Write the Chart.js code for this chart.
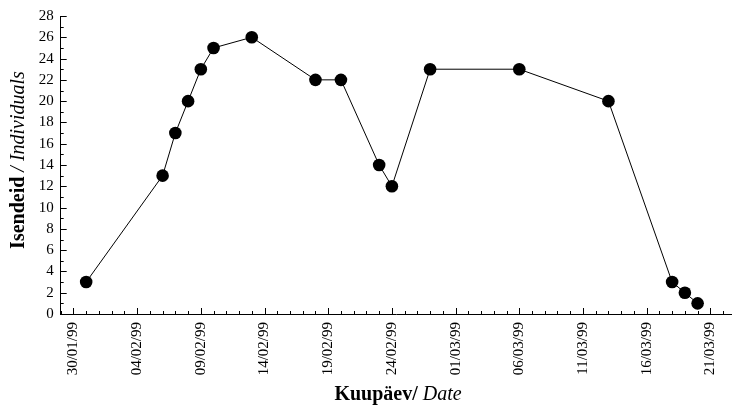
<!DOCTYPE html>
<html lang="et">
<head>
    <meta charset="UTF-8">
    <title>Isendeid</title>
    <script src="https://cdn.jsdelivr.net/npm/chart.js"></script>
    <style>
        html, body { margin: 0; padding: 0; background: #fff; }
        #wrap { width: 732px; height: 408px; position: relative; }
    </style>
</head>
<body>
<div id="wrap"><canvas id="myChart"></canvas></div>
<script>
    // kuupäevad ja isendite arv
    const dates = ['31/01/99', '06/02/99', '07/02/99', '08/02/99', '09/02/99', '10/02/99', '13/02/99',
        '18/02/99', '20/02/99', '23/02/99', '24/02/99', '27/02/99', '06/03/99', '13/03/99',
        '18/03/99', '19/03/99', '20/03/99']
    const individuals = [3, 13, 17, 20, 23, 25, 26, 22, 22, 14, 12, 23, 23, 20, 3, 2, 1]
    const xTickDays = [0, 5, 10, 15, 20, 25, 30, 35, 40, 45, 50]   // 30/01/99 + n päeva
    const yTicks = [0, 2, 4, 6, 8, 10, 12, 14, 16, 18, 20, 22, 24, 26, 28]

    const DAY = 86400000
    const start = Date.UTC(1999, 0, 30)
    const toDay = s => {
        const [d, m, y] = s.split('/').map(Number)
        return Math.round((Date.UTC(1900 + y, m - 1, d) - start) / DAY)
    }
    const fmt = v => {
        const d = new Date(start + v * DAY)
        const p = n => String(n).padStart(2, '0')
        return p(d.getUTCDate()) + '/' + p(d.getUTCMonth() + 1) + '/' + String(d.getUTCFullYear()).slice(2)
    }

    const FONT = '"Liberation Serif", "Times New Roman", serif'

    // sissepoole suunatud suured ja väikesed tikid
    const innerTicks = {
        id: 'innerTicks',
        beforeDatasetsDraw(chart) {
            const { ctx, chartArea, scales: { x, y } } = chart
            ctx.save()
            ctx.strokeStyle = '#000'
            ctx.lineWidth = 1
            ctx.beginPath()
            for (let d = Math.ceil(x.min); d <= x.max; d++) {
                const px = Math.round(x.getPixelForValue(d)) + 0.5
                const len = d % 5 === 0 ? 6 : 3
                ctx.moveTo(px, chartArea.bottom)
                ctx.lineTo(px, chartArea.bottom - len)
            }
            for (let v = 0; v <= 28; v++) {
                const py = Math.round(y.getPixelForValue(v)) + 0.5
                const len = v % 2 === 0 ? 6 : 3
                ctx.moveTo(chartArea.left, py)
                ctx.lineTo(chartArea.left + len, py)
            }
            ctx.stroke()
            ctx.restore()
        }
    }

    // teljetiitlid: poolpaks + kaldkiri
    const mixedTitles = {
        id: 'mixedTitles',
        afterDraw(chart) {
            const { ctx } = chart
            const bold = 'bold 20px ' + FONT
            const ital = 'italic 20px ' + FONT
            const drawPair = (a, b) => {
                ctx.font = bold
                const wa = ctx.measureText(a).width
                ctx.font = ital
                const wb = ctx.measureText(b).width
                const x0 = -(wa + wb) / 2
                ctx.font = bold
                ctx.fillText(a, x0, 0)
                ctx.font = ital
                ctx.fillText(b, x0 + wa, 0)
            }
            ctx.save()
            ctx.fillStyle = '#000'
            ctx.textBaseline = 'alphabetic'
            ctx.textAlign = 'left'
            ctx.translate(398, 400)
            drawPair('Kuupäev/', ' Date')
            ctx.restore()

            ctx.save()
            ctx.fillStyle = '#000'
            ctx.textBaseline = 'alphabetic'
            ctx.textAlign = 'left'
            ctx.translate(24, 160)
            ctx.rotate(-Math.PI / 2)
            drawPair('Isendeid', ' / Individuals')
            ctx.restore()
        }
    }

    const ctx = document.getElementById('myChart')

    const data = {
        datasets: [{
            label: 'Isendeid',
            data: dates.map((d, i) => ({ x: toDay(d), y: individuals[i] })),
            borderColor: '#000',
            borderWidth: 1,
            backgroundColor: '#000',
            pointRadius: 6.3,
            pointHoverRadius: 6.3,
            pointBackgroundColor: '#000',
            pointBorderWidth: 0,
            tension: 0
        }]
    }

    const config = {
        type: 'line',
        data: data,
        options: {
            responsive: true,
            maintainAspectRatio: false,
            animation: false,
            layout: { autoPadding: false, padding: { top: 16, right: 0, left: 0, bottom: 0 } },
            plugins: {
                legend: { display: false },
                tooltip: { enabled: false }
            },
            scales: {
                x: {
                    type: 'linear',
                    min: -1,
                    max: 51.7,
                    grid: { display: false, drawTicks: false },
                    border: { display: true, color: '#000', width: 1 },
                    afterBuildTicks: s => { s.ticks = xTickDays.map(v => ({ value: v })) },
                    afterFit: s => { s.height = 94; s.paddingRight = 0; s.paddingLeft = 0 },
                    ticks: {
                        autoSkip: false,
                        minRotation: 90,
                        maxRotation: 90,
                        padding: 8,
                        color: '#000',
                        font: { family: FONT, size: 15 },
                        callback: v => fmt(v)
                    }
                },
                y: {
                    min: 0,
                    max: 28,
                    grid: { display: false, drawTicks: false },
                    border: { display: true, color: '#000', width: 1 },
                    afterBuildTicks: s => { s.ticks = yTicks.map(v => ({ value: v })) },
                    afterFit: s => { s.width = 60.7; s.paddingTop = 0; s.paddingBottom = 0 },
                    ticks: {
                        padding: 7,
                        color: '#000',
                        font: { family: FONT, size: 15 }
                    }
                }
            }
        },
        plugins: [innerTicks, mixedTitles]
    }
    window.myChart = new Chart(ctx, config)
</script>
</body>
</html>
